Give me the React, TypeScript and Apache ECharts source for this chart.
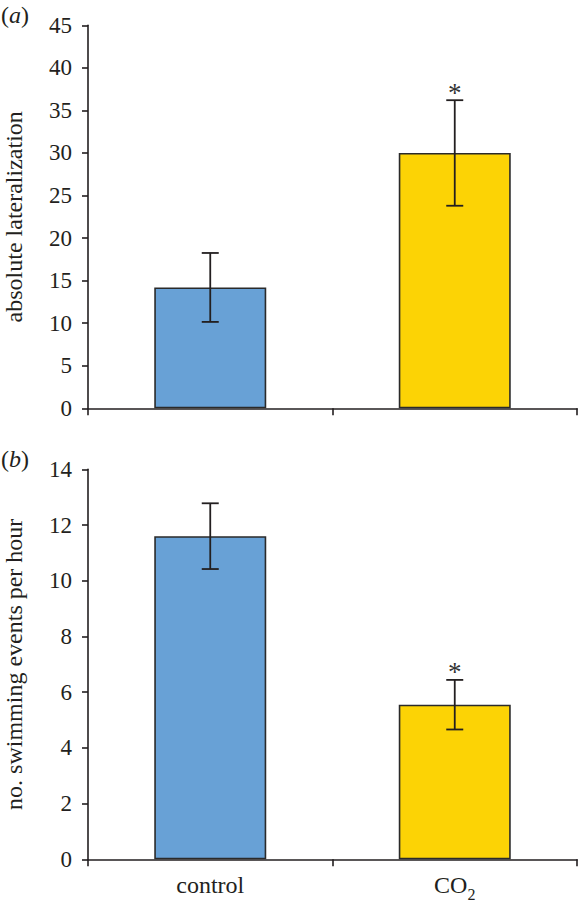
import React, { useEffect, useRef } from "react";
import * as echarts from "echarts";

const categories = ["control", "CO2"];
const lateralMean = [14.2, 30.0];
const lateralErr = [4.05, 6.2];
const swimMean = [11.6, 5.55];
const swimErr = [1.18, 0.89];
const significant = [0, 1];
const barColors = ["#68a1d6", "#fcd305"];

const FONT = '"Liberation Serif", "Times New Roman", serif';
const INK = "#231f20";

function errData(mean: number[], err: number[]) {
  return mean.map((m, i) => [i, m - err[i], m + err[i], significant[i]]);
}

function renderErr(params: any, api: any) {
  const x = api.value(0);
  const lo = api.coord([x, api.value(1)]);
  const hi = api.coord([x, api.value(2)]);
  const half = 8.5;
  const st = { stroke: INK, lineWidth: 1.8 };
  const children: any[] = [
    { type: "line", shape: { x1: hi[0], y1: hi[1], x2: lo[0], y2: lo[1] }, style: st },
    { type: "line", shape: { x1: hi[0] - half, y1: hi[1], x2: hi[0] + half, y2: hi[1] }, style: st },
    { type: "line", shape: { x1: lo[0] - half, y1: lo[1], x2: lo[0] + half, y2: lo[1] }, style: st },
  ];
  if (api.value(3) === 1) {
    children.push({
      type: "text",
      x: hi[0],
      y: hi[1] + 6,
      style: {
        text: "*",
        fontFamily: FONT,
        fontSize: 27,
        fill: "#333",
        align: "center",
        verticalAlign: "bottom",
      },
    });
  }
  return { type: "group", children };
}

export default function App() {
  const ref = useRef<HTMLDivElement>(null);
  useEffect(() => {
    if (!ref.current) return;
    const chart = echarts.init(ref.current, null, { renderer: "svg" });
    const axisLine = { show: true, lineStyle: { color: INK, width: 1.6 } };
    const yLabel = { fontFamily: FONT, fontSize: 23, color: INK, margin: 16 };
    const xAxisBase = {
      type: "category" as const,
      data: categories,
      axisLine,
      axisTick: { show: true, length: 7, alignWithLabel: false, lineStyle: { color: INK, width: 1.6 } },
      splitLine: { show: false },
    };
    const yAxisBase = {
      type: "value" as const,
      min: 0,
      axisLine,
      axisTick: { show: true, length: 6, lineStyle: { color: INK, width: 1.6 } },
      splitLine: { show: false },
      axisLabel: yLabel,
      nameLocation: "middle" as const,
      nameGap: 62,
      nameTextStyle: { fontFamily: FONT, fontSize: 24, color: INK },
    };
    const panelRich = { i: { fontFamily: FONT, fontSize: 24, fontStyle: "italic", fill: INK } };
    chart.setOption({
      animation: false,
      backgroundColor: "#ffffff",
      grid: [
        { left: 88, right: 3, top: 25.3, height: 383, containLabel: false, outerBoundsMode: "none" },
        { left: 88, right: 3, top: 469.3, height: 390, containLabel: false, outerBoundsMode: "none" },
      ],
      xAxis: [
        { ...xAxisBase, gridIndex: 0, axisLabel: { show: false } },
        {
          ...xAxisBase,
          gridIndex: 1,
          axisLabel: {
            fontFamily: FONT,
            fontSize: 24,
            color: INK,
            margin: 14,
            formatter: (v: string) => (v === "CO2" ? "{a|CO}{b|2}" : "{a|" + v + "}"),
            rich: {
              a: { fontFamily: FONT, fontSize: 24, color: INK, lineHeight: 26, verticalAlign: "top" },
              b: { fontFamily: FONT, fontSize: 16, color: INK, lineHeight: 16, padding: [13, 0, 0, 0], verticalAlign: "top" },
            },
          },
        },
      ],
      yAxis: [
        { ...yAxisBase, gridIndex: 0, max: 45, interval: 5, name: "absolute lateralization" },
        { ...yAxisBase, gridIndex: 1, max: 14, interval: 2, name: "no. swimming events per hour" },
      ],
      graphic: [
        {
          type: "text",
          left: 1,
          top: 3,
          style: { text: "({i|a})", fontFamily: FONT, fontSize: 24, fill: INK, rich: panelRich },
        },
        {
          type: "text",
          left: 1,
          top: 447,
          style: { text: "({i|b})", fontFamily: FONT, fontSize: 24, fill: INK, rich: panelRich },
        },
      ],
      series: [
        {
          type: "bar",
          xAxisIndex: 0,
          yAxisIndex: 0,
          barWidth: 112,
          data: lateralMean.map((v, i) => ({
            value: v,
            itemStyle: { color: barColors[i], borderColor: "#2a2a2a", borderWidth: 1.6 },
          })),
        },
        {
          type: "custom",
          xAxisIndex: 0,
          yAxisIndex: 0,
          z: 5,
          renderItem: renderErr,
          encode: { x: 0, y: [1, 2] },
          data: errData(lateralMean, lateralErr),
        },
        {
          type: "bar",
          xAxisIndex: 1,
          yAxisIndex: 1,
          barWidth: 112,
          data: swimMean.map((v, i) => ({
            value: v,
            itemStyle: { color: barColors[i], borderColor: "#2a2a2a", borderWidth: 1.6 },
          })),
        },
        {
          type: "custom",
          xAxisIndex: 1,
          yAxisIndex: 1,
          z: 5,
          renderItem: renderErr,
          encode: { x: 0, y: [1, 2] },
          data: errData(swimMean, swimErr),
        },
      ],
    });
    return () => chart.dispose();
  }, []);
  return (
    <div
      ref={ref}
      style={{ position: "absolute", left: 0, top: 0, width: 580, height: 909 }}
    />
  );
}
